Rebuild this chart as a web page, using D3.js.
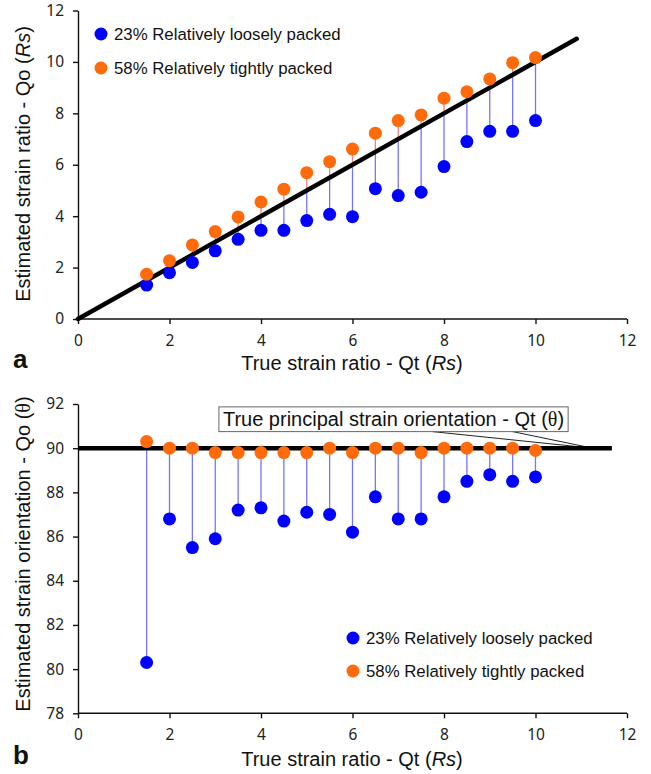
<!DOCTYPE html>
<html>
<head>
<meta charset="utf-8">
<script src="https://cdn.jsdelivr.net/npm/d3@7"></script>
<style>
  body { margin: 0; background: #fff; }
  svg { display: block; }
</style>
</head>
<body>
<div id="frame"></div>
<script>
// DATA
const strainRatio = [1.5, 2, 2.5, 3, 3.5, 4, 4.5, 5, 5.5, 6, 6.5, 7, 7.5, 8, 8.5, 9, 9.5, 10];
// panel a: estimated strain ratio
const rsLoose = [1.32, 1.8, 2.2, 2.65, 3.1, 3.45, 3.45, 3.83, 4.07, 3.98, 5.07, 4.8, 4.93, 5.93, 6.9, 7.3, 7.3, 7.72];
const rsTight = [1.74, 2.27, 2.88, 3.4, 3.97, 4.55, 5.05, 5.69, 6.12, 6.61, 7.23, 7.72, 7.94, 8.59, 8.84, 9.34, 9.97, 10.17];
// panel b: estimated strain orientation
const thetaLoose = [80.3, 86.8, 85.5, 85.9, 87.2, 87.3, 86.7, 87.1, 87.0, 86.2, 87.8, 86.8, 86.8, 87.8, 88.5, 88.8, 88.5, 88.7];
const thetaTight = [90.3, 90.0, 90.0, 89.8, 89.8, 89.8, 89.8, 89.8, 90.0, 89.8, 90.0, 90.0, 89.8, 90.0, 90.0, 90.0, 90.0, 89.9];
const trueTheta = 90;
// reference lines (x extents)
const lineAExtent = [0, 10.9];
const lineBExtent = [0, 11.67];

const xTicks = [0, 2, 4, 6, 8, 10, 12];
const yTicksA = [0, 2, 4, 6, 8, 10, 12];
const yTicksB = [78, 80, 82, 84, 86, 88, 90, 92];

const seriesNames = ["23% Relatively loosely packed", "58% Relatively tightly packed"];

// VARIABLES
const width = 651;
const height = 774;
const blue = "#0000ff";
const orange = "#ff6a0a";
const blueStem = "#7474ff";
const redStem = "#ff7c7c";
const dotR = 6.5;
const tickFont = "'Noto Sans', sans-serif";
const textFont = "'Liberation Sans', Arial, sans-serif";
const titleSize = 20;

const svg = d3.select("#frame")
    .append("svg")
        .attr("width", width)
        .attr("height", height)
        .attr("viewBox", [0, 0, width, height]);

const x = d3.scaleLinear().domain([0, 12]).range([78, 627]);
const yA = d3.scaleLinear().domain([0, 12]).range([319, 10.5]);
const yB = d3.scaleLinear().domain([78, 92]).range([713.3, 404]);

// FUNCTIONS
function drawAxes(y, yTicks, xLabelY) {
    const gx = svg.append("g")
        .attr("transform", "translate(0," + y.range()[0] + ")")
        .call(d3.axisBottom(x).tickValues(xTicks).tickSize(5).tickPadding(11).tickSizeOuter(0));
    const gy = svg.append("g")
        .attr("transform", "translate(" + x.range()[0] + ",0)")
        .call(d3.axisLeft(y).tickValues(yTicks).tickSize(5).tickPadding(9).tickSizeOuter(0));
    [gx, gy].forEach(g => {
        g.selectAll("path, line").attr("stroke", "#111").attr("stroke-width", 1.4);
        g.selectAll("text")
            .attr("font-family", tickFont)
            .attr("font-size", 15.5)
            .attr("fill", "#222");
    });
    gx.select(".domain").attr("d", "M" + x.range()[0] + ",0H" + x.range()[1]);

    // x title
    const t = svg.append("text")
        .attr("x", 352)
        .attr("y", xLabelY)
        .attr("text-anchor", "middle")
        .attr("font-family", textFont)
        .attr("font-size", titleSize)
        .attr("fill", "#111");
    t.append("tspan").text("True strain ratio - Qt (");
    t.append("tspan").attr("font-style", "italic").text("Rs");
    t.append("tspan").text(")");
}

function drawStems(y, xs, vals, ref, color) {
    svg.append("g")
        .selectAll("line")
        .data(vals)
        .enter()
        .append("line")
            .attr("x1", (d, i) => x(xs[i]))
            .attr("x2", (d, i) => x(xs[i]))
            .attr("y1", d => y(d))
            .attr("y2", (d, i) => y(typeof ref === "function" ? ref(xs[i]) : ref))
            .attr("stroke", color)
            .attr("stroke-width", 1.3);
}

function drawDots(y, xs, vals, color) {
    svg.append("g")
        .selectAll("circle")
        .data(vals)
        .enter()
        .append("circle")
            .attr("cx", (d, i) => x(xs[i]))
            .attr("cy", d => y(d))
            .attr("r", dotR)
            .attr("fill", color);
}

function drawLegend(lx, ly, gap) {
    const colors = [blue, orange];
    const g = svg.append("g");
    seriesNames.forEach((name, i) => {
        g.append("circle")
            .attr("cx", lx)
            .attr("cy", ly + i * gap)
            .attr("r", dotR)
            .attr("fill", colors[i]);
        g.append("text")
            .attr("x", lx + 13)
            .attr("y", ly + i * gap)
            .attr("dy", "0.36em")
            .attr("font-family", textFont)
            .attr("font-size", 16.8)
            .attr("fill", "#111")
            .text(name);
    });
}

function panelLetter(letter, py) {
    svg.append("text")
        .attr("x", 13)
        .attr("y", py)
        .attr("font-family", textFont)
        .attr("font-weight", "bold")
        .attr("font-size", 26)
        .attr("fill", "#111")
        .text(letter);
}

// PANEL A
drawAxes(yA, yTicksA, 370);
drawStems(yA, strainRatio, rsLoose, v => v, blueStem);
drawStems(yA, strainRatio, rsTight, v => v, redStem);
svg.append("line")
    .attr("x1", x(lineAExtent[0])).attr("y1", yA(lineAExtent[0]))
    .attr("x2", x(lineAExtent[1])).attr("y2", yA(lineAExtent[1]))
    .attr("stroke", "#000").attr("stroke-width", 4.5).attr("stroke-linecap", "round");
drawDots(yA, strainRatio, rsLoose, blue);
drawDots(yA, strainRatio, rsTight, orange);
drawLegend(101, 34, 34);
panelLetter("a", 368);

const yTitleA = svg.append("text")
    .attr("transform", "translate(30," + 164 + ") rotate(-90)")
    .attr("text-anchor", "middle")
    .attr("font-family", textFont)
    .attr("font-size", titleSize)
    .attr("fill", "#111");
yTitleA.append("tspan").text("Estimated strain ratio - Qo (");
yTitleA.append("tspan").attr("font-style", "italic").text("Rs");
yTitleA.append("tspan").text(")");

// PANEL B
drawAxes(yB, yTicksB, 766);
drawStems(yB, strainRatio, thetaLoose, trueTheta, blueStem);
drawStems(yB, strainRatio, thetaTight, trueTheta, redStem);

// callout to the reference line
const callout = { left: 3.08, top: 91.87, bottom: 90.75, base1: 7.75, base2: 9.5, tip: 11.25 };
svg.append("path")
    .attr("d", "M" + x(callout.base1) + "," + yB(callout.bottom)
        + "L" + x(callout.tip) + "," + yB(trueTheta)
        + "L" + x(callout.base2) + "," + yB(callout.bottom))
    .attr("fill", "none")
    .attr("stroke", "#222")
    .attr("stroke-width", 1);

svg.append("line")
    .attr("x1", x(lineBExtent[0])).attr("y1", yB(trueTheta))
    .attr("x2", x(lineBExtent[1])).attr("y2", yB(trueTheta))
    .attr("stroke", "#000").attr("stroke-width", 4.5);

const boxG = svg.append("g");
const boxRect = boxG.append("rect")
    .attr("fill", "#fff")
    .attr("stroke", "#666")
    .attr("stroke-width", 1);
const boxText = boxG.append("text")
    .attr("x", x(callout.left) + 4)
    .attr("y", (yB(callout.top) + yB(callout.bottom)) / 2)
    .attr("dy", "0.36em")
    .attr("font-family", textFont)
    .attr("font-size", 20)
    .attr("fill", "#111");
boxText.append("tspan").text("True principal strain orientation - Qt (");
boxText.append("tspan").attr("font-family", "'Liberation Serif', serif").text("θ");
boxText.append("tspan").text(")");
const tw = boxText.node().getComputedTextLength();
boxRect
    .attr("x", x(callout.left))
    .attr("y", yB(callout.top))
    .attr("width", tw + 8)
    .attr("height", yB(callout.bottom) - yB(callout.top));

drawDots(yB, strainRatio, thetaLoose, blue);
drawDots(yB, strainRatio, thetaTight, orange);
drawLegend(353, 638, 33);
panelLetter("b", 764);

const yTitleB = svg.append("text")
    .attr("transform", "translate(30," + 554 + ") rotate(-90)")
    .attr("text-anchor", "middle")
    .attr("font-family", textFont)
    .attr("font-size", titleSize)
    .attr("fill", "#111");
yTitleB.append("tspan").text("Estimated strain orientation - Qo (");
yTitleB.append("tspan").attr("font-family", "'Liberation Serif', serif").text("θ");
yTitleB.append("tspan").text(")");
</script>
</body>
</html>
